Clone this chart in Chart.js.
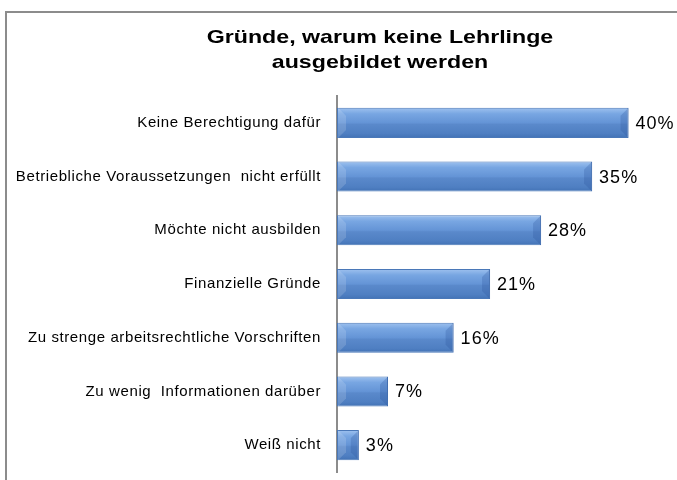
<!DOCTYPE html>
<html>
<head>
<meta charset="utf-8">
<script src="https://cdn.jsdelivr.net/npm/chart.js@4.4.1/dist/chart.umd.min.js"></script>
<style>
  html, body { margin: 0; padding: 0; background: #fff; }
  #wrap { position: relative; width: 677px; height: 480px; }
  #frame { position: absolute; left: 5px; top: 11px; right: -10px; bottom: -10px;
           border-top: 2px solid #8c8c8c; border-left: 2px solid #8c8c8c; }
  canvas { position: absolute; left: 0; top: 0; }
</style>
</head>
<body>
<div id="wrap">
  <div id="frame"></div>
  <canvas id="chart-reasons" width="677" height="480"></canvas>
</div>
<script>
// Gründe, warum keine Lehrlinge ausgebildet werden
let titleLines = ['Gründe, warum keine Lehrlinge', 'ausgebildet werden'];
let labelsReasons = [
    'Keine Berechtigung dafür',
    'Betriebliche Voraussetzungen  nicht erfüllt',
    'Möchte nicht ausbilden',
    'Finanzielle Gründe',
    'Zu strenge arbeitsrechtliche Vorschriften',
    'Zu wenig  Informationen darüber',
    'Weiß nicht'
];
let dataReasons = [40, 35, 28, 21, 16, 7, 3];

let FONT = '"Liberation Sans", Arial, sans-serif';
let BAR_PCT = 0.56;

// original text looks a bit stretched sideways, so widen tick text a little
let spacing = {
    id: 'spacing',
    beforeDraw(chart) {
        chart.ctx.letterSpacing = '0.6px';
    }
};

// title drawn by hand so it can sit off-centre like the original
let titlePlugin = {
    id: 'titleText',
    afterDraw(chart) {
        let ctx = chart.ctx;
        ctx.save();
        ctx.letterSpacing = '0px';
        ctx.font = 'bold 19px ' + FONT;
        ctx.fillStyle = '#000';
        ctx.textAlign = 'center';
        ctx.textBaseline = 'middle';
        ctx.translate(380, 0);
        ctx.scale(1.22, 1);
        ctx.fillText(titleLines[0], 0, 38);
        ctx.fillText(titleLines[1], 0, 63);
        ctx.restore();
    }
};

// slanted end facets like the bevelled bars of the original
let bevel = {
    id: 'bevel',
    afterDatasetsDraw(chart) {
        let ctx = chart.ctx;
        let left = chart.chartArea.left;
        ctx.save();
        chart.getDatasetMeta(0).data.forEach(bar => {
            let top = bar.y - bar.height / 2, bot = bar.y + bar.height / 2;
            let b = Math.min(8, (bar.x - left) / 2);
            // right end, darker
            ctx.fillStyle = 'rgba(40,80,150,0.25)';
            ctx.beginPath();
            ctx.moveTo(bar.x, top);
            ctx.lineTo(bar.x - b, top + b);
            ctx.lineTo(bar.x - b, bot - b);
            ctx.lineTo(bar.x, bot);
            ctx.closePath();
            ctx.fill();
            // left end, lighter
            ctx.fillStyle = 'rgba(255,255,255,0.15)';
            ctx.beginPath();
            ctx.moveTo(left + 1, top);
            ctx.lineTo(left + 1 + b, top + b);
            ctx.lineTo(left + 1 + b, bot - b);
            ctx.lineTo(left + 1, bot);
            ctx.closePath();
            ctx.fill();
        });
        ctx.restore();
    }
};

// percent values next to the bars
let valueLabels = {
    id: 'valueLabels',
    afterDatasetsDraw(chart) {
        let ctx = chart.ctx;
        ctx.save();
        ctx.letterSpacing = '1px';
        ctx.font = '18px ' + FONT;
        ctx.fillStyle = '#000';
        ctx.textBaseline = 'middle';
        chart.getDatasetMeta(0).data.forEach((bar, i) => {
            ctx.fillText(dataReasons[i] + '%', bar.x + 7, bar.y + 1);
        });
        ctx.restore();
    }
};

// blue gradient per bar, worked out from the category scale
function barFill(c) {
    let chart = c.chart;
    let y = chart.scales.y;
    if (!y || c.dataIndex === undefined) return '#6797d8';
    let mid = y.getPixelForValue(c.dataIndex);
    let half = y.height / labelsReasons.length * BAR_PCT / 2;
    if (!isFinite(mid) || !isFinite(half) || half <= 0) return '#6797d8';
    let g = chart.ctx.createLinearGradient(0, mid - half, 0, mid + half);
    g.addColorStop(0, '#9fc2ef');
    g.addColorStop(0.2, '#78a6e2');
    g.addColorStop(0.5, '#6494d6');
    g.addColorStop(0.55, '#5a89cb');
    g.addColorStop(0.85, '#4f7fc2');
    g.addColorStop(1, '#4272b5');
    return g;
}

let chartReasons = document.getElementById('chart-reasons').getContext('2d');

let chart1 = new Chart(chartReasons, {
    type: 'bar',
    data: {
        labels: labelsReasons,
        datasets: [{
            data: dataReasons,
            backgroundColor: barFill,
            borderColor: '#4a78b8',
            borderWidth: 1,
            borderSkipped: false,
            barPercentage: BAR_PCT,
            categoryPercentage: 1
        }]
    },
    options: {
        indexAxis: 'y',
        responsive: false,
        animation: false,
        layout: {
            padding: { top: 96, bottom: 8, left: 0, right: 12 }
        },
        plugins: {
            legend: { display: false },
            title: { display: false },
            tooltip: { enabled: false }
        },
        scales: {
            x: {
                min: 0,
                max: 45,
                display: false,
                afterFit(scale) { scale.height = 0; },
                grid: { display: false }
            },
            y: {
                afterFit(scale) {
                    scale.width = 337;
                    scale.paddingTop = 0;
                    scale.paddingBottom = 0;
                },
                grid: { display: false, drawTicks: false },
                border: { display: true, color: '#8c8c8c', width: 2 },
                ticks: {
                    padding: 16,
                    color: '#000',
                    font: { family: FONT, size: 15 }
                }
            }
        }
    },
    plugins: [spacing, titlePlugin, bevel, valueLabels]
});
</script>
</body>
</html>
